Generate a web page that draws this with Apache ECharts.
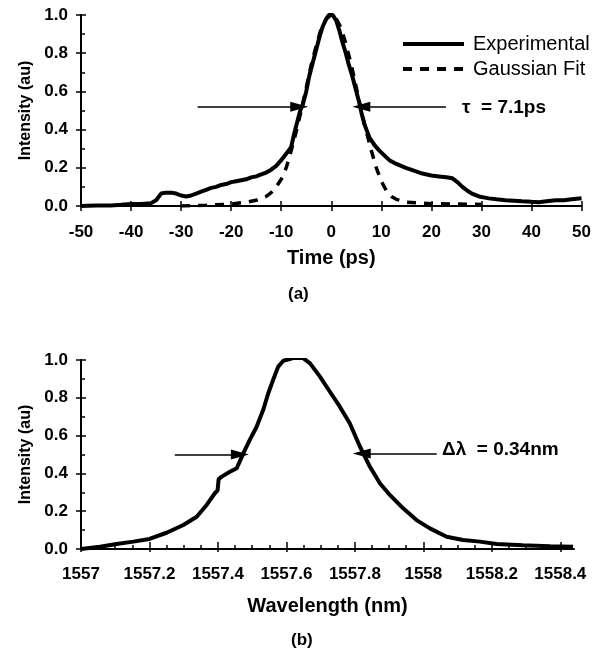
<!DOCTYPE html>
<html>
<head>
<meta charset="utf-8">
<script src="https://cdn.jsdelivr.net/npm/echarts@6/dist/echarts.min.js"></script>
<style>html,body{margin:0;padding:0;background:#fff;}#c{width:594px;height:656px;}</style>
</head>
<body>
<div id="c"></div>
<script>
// ---- Data: panel (a) autocorrelation ----
const timeExperimental = [
  [-50,0.0],[-47,0.002],[-44,0.003],[-42,0.006],[-40,0.01],[-38,0.01],[-36,0.015],[-35,0.03],
  [-34,0.065],[-33,0.07],[-32,0.07],[-31,0.065],[-30,0.055],[-29,0.05],[-28,0.055],[-27,0.065],
  [-26,0.075],[-25,0.085],[-24,0.095],[-23,0.1],[-22,0.11],[-21,0.115],[-20,0.125],[-19,0.13],
  [-18,0.135],[-17,0.14],[-16,0.15],[-15,0.155],[-14,0.165],[-13,0.175],[-12,0.19],[-11,0.21],
  [-10,0.24],[-9.4,0.26],[-8.5,0.29],[-8,0.31],[-7.4,0.38],[-6.7,0.45],[-6.2,0.5],[-5.7,0.53],
  [-5,0.6],[-4.4,0.68],[-3.7,0.75],[-3,0.82],[-2.3,0.89],[-1.7,0.94],[-1,0.98],[-0.5,1.0],
  [0.3,1.0],[1,0.97],[1.6,0.92],[2.2,0.86],[2.9,0.8],[3.5,0.74],[4.2,0.68],[4.9,0.61],
  [5.6,0.54],[6.1,0.48],[6.6,0.43],[7.6,0.36],[8.6,0.32],[9.6,0.29],[10.6,0.265],[11.6,0.24],
  [13,0.22],[14.9,0.2],[16.5,0.185],[18.2,0.17],[20,0.16],[21.5,0.155],[23,0.15],[24.2,0.145],
  [25.2,0.125],[26.2,0.1],[27.2,0.08],[28.1,0.065],[29.5,0.05],[31.5,0.04],[33,0.035],[34.8,0.03],
  [36.5,0.028],[38.1,0.025],[40,0.022],[41.4,0.02],[43,0.025],[44.8,0.03],[46.5,0.03],[48,0.035],[50,0.04]
];
const timeGaussian = [
  [-30,0.0],[-25,0.004],[-20,0.01],[-17,0.02],[-15,0.03],[-13,0.05],[-12,0.07],[-11,0.1],
  [-10,0.14],[-9,0.2],[-8,0.29],[-7,0.39],[-6,0.5],[-5,0.62],[-4,0.74],[-3,0.84],[-2,0.93],
  [-1,0.98],[0,1.0],[1,0.98],[2,0.93],[3,0.84],[4,0.74],[5,0.62],[6,0.5],[7,0.39],[8,0.29],
  [9,0.2],[10,0.13],[11,0.08],[12,0.05],[13,0.035],[15,0.02],[20,0.012],[25,0.01],[30,0.008]
];
// ---- Data: panel (b) spectrum ----
const spectrum = [
  [1557.0,0.0],[1557.055,0.012],[1557.104,0.026],[1557.153,0.039],[1557.2,0.053],[1557.25,0.086],
  [1557.299,0.127],[1557.338,0.171],[1557.367,0.233],[1557.391,0.295],[1557.399,0.31],[1557.402,0.37],
  [1557.411,0.383],[1557.435,0.409],[1557.455,0.427],[1557.474,0.506],[1557.493,0.577],[1557.513,0.647],
  [1557.532,0.735],[1557.547,0.824],[1557.561,0.894],[1557.576,0.965],[1557.591,0.996],[1557.62,1.01],
  [1557.649,1.01],[1557.669,0.982],[1557.698,0.912],[1557.727,0.832],[1557.756,0.753],[1557.785,0.665],
  [1557.815,0.541],[1557.844,0.435],[1557.873,0.348],[1557.902,0.286],[1557.941,0.215],[1557.98,0.153],
  [1558.019,0.109],[1558.068,0.065],[1558.116,0.048],[1558.165,0.039],[1558.214,0.026],[1558.29,0.02],
  [1558.37,0.015],[1558.437,0.012]
];
// ---- Ticks / labels ----
const timeTicks = [-50,-40,-30,-20,-10,0,10,20,30,40,50];
const wlMajor = [1557,1557.2,1557.4,1557.6,1557.8,1558,1558.2,1558.4];
const wlMinor = [1557.05,1557.1,1557.15,1557.25,1557.3,1557.35,1557.45,1557.5,1557.55,
  1557.65,1557.7,1557.75,1557.85,1557.9,1557.95,1558.05,1558.1,1558.15,1558.25,1558.3,1558.35];
// ---- Annotations ----
const tauArrows = [[[-26.7,0.52],[-6.4,0.52]],[[22.9,0.52],[6.0,0.52]]];
const dlArrows = [[[1557.274,0.5],[1557.464,0.5]],[[1558.039,0.505],[1557.82,0.505]]];

const FONT = 'Liberation Sans';
const black = '#000';
const lbl = {color: black, fontFamily: FONT, fontWeight: 'bold', fontSize: 17};
const nameStyle = {color: black, fontFamily: FONT, fontWeight: 'bold', fontSize: 20};
const fmt = v => String(Math.round(v * 10) / 10);

function yAxes(grid) {
  return [
    {gridIndex: grid, type: 'value', position: 'left', min: 0, max: 1, interval: 0.2,
     axisLine: {show: true, onZero: false, lineStyle: {color: black, width: 2}},
     axisTick: {show: true, inside: false, length: 5, lineStyle: {color: black, width: 1.5}},
     axisLabel: Object.assign({margin: 13, formatter: v => v.toFixed(1)}, lbl),
     splitLine: {show: false},
     name: 'Intensity (au)', nameLocation: 'middle', nameGap: 46, nameTextStyle: {fontFamily: FONT, fontWeight: 'bold', fontSize: 16, color: black}},
    {gridIndex: grid, type: 'value', position: 'left', offset: 0, min: 0, max: 1, interval: 0.2,
     axisLine: {show: false, onZero: false},
     axisTick: {show: true, inside: true, length: 5, lineStyle: {color: black, width: 1.5}},
     minorTick: {show: true, splitNumber: 2, length: 4, lineStyle: {color: black, width: 1.5}},
     axisLabel: {show: false}, splitLine: {show: false}}
  ];
}

const option = {
  animation: false,
  backgroundColor: '#fff',
  grid: [
    {left: 81, top: 15, width: 502, height: 191},
    {left: 81, top: 360, width: 493, height: 189}
  ],
  xAxis: [
    {gridIndex: 0, type: 'value', position: 'bottom', min: -50, max: 50, interval: 10,
     axisLine: {show: true, onZero: false, lineStyle: {color: black, width: 2}},
     axisTick: {show: true, inside: false, length: 5, lineStyle: {color: black, width: 1.5}},
     axisLabel: Object.assign({margin: 18, customValues: timeTicks, formatter: fmt}, lbl),
     splitLine: {show: false},
     name: 'Time (ps)', nameLocation: 'middle', nameGap: 42, nameTextStyle: nameStyle},
    {gridIndex: 0, type: 'value', position: 'bottom', offset: 0, min: -50, max: 50, interval: 10,
     axisLine: {show: false, onZero: false},
     axisTick: {show: true, inside: true, length: 5, lineStyle: {color: black, width: 1.5}},
     axisLabel: {show: false}, splitLine: {show: false}},
    {gridIndex: 1, type: 'value', position: 'bottom', min: 1557, max: 1558.44, interval: 0.2,
     axisLine: {show: true, onZero: false, lineStyle: {color: black, width: 2}},
     axisTick: {show: true, inside: false, length: 3, customValues: wlMajor, lineStyle: {color: black, width: 1.5}},
     axisLabel: Object.assign({margin: 17, customValues: wlMajor, formatter: fmt}, lbl),
     splitLine: {show: false},
     name: 'Wavelength (nm)', nameLocation: 'middle', nameGap: 47, nameTextStyle: nameStyle},
    {gridIndex: 1, type: 'value', position: 'bottom', offset: 0, min: 1557, max: 1558.44, interval: 0.2,
     axisLine: {show: false, onZero: false},
     axisTick: {show: true, inside: true, length: 7, customValues: wlMajor, lineStyle: {color: black, width: 1.5}},
     axisLabel: {show: false}, splitLine: {show: false}},
    {gridIndex: 1, type: 'value', position: 'bottom', offset: 0, min: 1557, max: 1558.44, interval: 0.2,
     axisLine: {show: false, onZero: false},
     axisTick: {show: true, inside: true, length: 4, customValues: wlMinor, lineStyle: {color: black, width: 1.5}},
     axisLabel: {show: false}, splitLine: {show: false}}
  ],
  yAxis: yAxes(0).concat(yAxes(1)),
  legend: {
    data: [
      {name: 'Experimental', lineStyle: {width: 4, type: 'solid', color: black}},
      {name: 'Gaussian Fit', lineStyle: {width: 4, type: [9, 8], color: black}}
    ],
    orient: 'vertical', left: 396, top: 29,
    itemWidth: 61, itemHeight: 14, itemGap: 5,
    itemStyle: {color: 'rgba(0,0,0,0)', borderWidth: 0, opacity: 0},
    textStyle: {fontFamily: FONT, fontSize: 20, color: black, padding: [0, 0, 0, 4]},
    selectedMode: false
  },
  series: [
    {name: 'Experimental', type: 'line', xAxisIndex: 0, yAxisIndex: 0, data: timeExperimental,
     symbol: 'none', lineStyle: {color: black, width: 4}, itemStyle: {color: black}, z: 3,
     markLine: {silent: true, symbol: ['none', 'triangle'], symbolSize: [10, 18],
       lineStyle: {color: black, width: 1.5, type: 'solid'}, label: {show: false},
       data: tauArrows.map(a => [{coord: a[0]}, {coord: a[1]}])}},
    {name: 'Gaussian Fit', type: 'line', xAxisIndex: 0, yAxisIndex: 0, data: timeGaussian,
     symbol: 'none', lineStyle: {color: black, width: 3.5, type: [9, 8]}, itemStyle: {color: black}, z: 2},
    {name: 'Spectrum', type: 'line', xAxisIndex: 2, yAxisIndex: 2, data: spectrum,
     symbol: 'none', lineStyle: {color: black, width: 4}, itemStyle: {color: black},
     markLine: {silent: true, symbol: ['none', 'triangle'], symbolSize: [10, 18],
       lineStyle: {color: black, width: 1.5, type: 'solid'}, label: {show: false},
       data: dlArrows.map(a => [{coord: a[0]}, {coord: a[1]}])}}
  ],
  graphic: [
    {type: 'text', left: 462, top: 98, style: {text: 'τ  = 7.1ps', fill: black, font: 'bold 19px "Liberation Sans"'}},
    {type: 'text', left: 442, top: 440, style: {text: 'Δλ  = 0.34nm', fill: black, font: 'bold 19px "Liberation Sans"'}},
    {type: 'text', left: 288, top: 286, style: {text: '(a)', fill: black, font: 'bold 17px "Liberation Sans"'}},
    {type: 'text', left: 291, top: 632, style: {text: '(b)', fill: black, font: 'bold 17px "Liberation Sans"'}}
  ]
};
const chart = echarts.init(document.getElementById('c'), null, {renderer: 'canvas'});
chart.setOption(option);
</script>
</body>
</html>
